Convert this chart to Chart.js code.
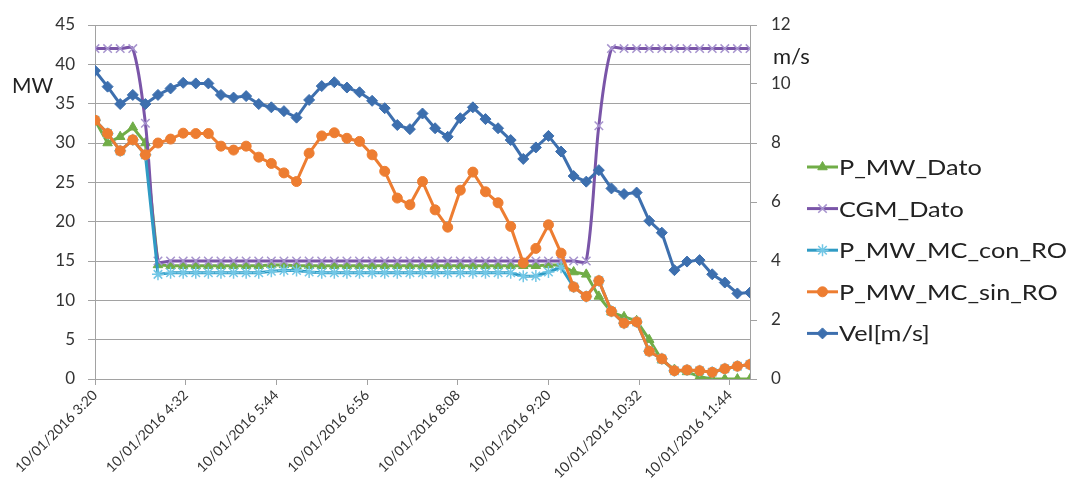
<!DOCTYPE html>
<html>
<head>
<meta charset="utf-8">
<script src="https://cdn.jsdelivr.net/npm/chart.js@4.4.1/dist/chart.umd.min.js"></script>
<style>
  html, body { margin: 0; padding: 0; background: #ffffff; }
  #wrap { width: 1066px; height: 479px; position: relative; }
</style>
</head>
<body>
<div id="wrap"><canvas id="c" width="1066" height="479"></canvas></div>
<script>
// Sample times (10-minute readings on 10/01/2016)
const times = [
  '3:20','3:30','3:40','3:50','4:00','4:10','4:20','4:30','4:40','4:50',
  '5:00','5:10','5:20','5:30','5:40','5:50','6:00','6:10','6:20','6:30',
  '6:40','6:50','7:00','7:10','7:20','7:30','7:40','7:50','8:00','8:10',
  '8:20','8:30','8:40','8:50','9:00','9:10','9:20','9:30','9:40','9:50',
  '10:00','10:10','10:20','10:30','10:40','10:50','11:00','11:10','11:20','11:30',
  '11:40','11:50','12:00'
];

// Axis labels every 72 minutes
const tickLabels = [
  '10/01/2016 3:20','10/01/2016 4:32','10/01/2016 5:44','10/01/2016 6:56',
  '10/01/2016 8:08','10/01/2016 9:20','10/01/2016 10:32','10/01/2016 11:44'
];

// Measured power [MW]
const pMwDato = [
  32.9, 30.0, 30.8, 32.0, 30.0, 14.5, 14.4, 14.4, 14.4, 14.4,
  14.4, 14.4, 14.4, 14.4, 14.5, 14.5, 14.4, 14.4, 14.4, 14.4,
  14.4, 14.4, 14.4, 14.4, 14.4, 14.4, 14.4, 14.4, 14.4, 14.4,
  14.4, 14.4, 14.4, 14.4, 14.4, 14.4, 14.5, 14.5, 13.6, 13.3,
  10.5, 8.5, 7.9, 7.4, 5.0, 2.4, 1.2, 0.9, 0.3, 0.0,
  0.0, 0.0, 0.0
];

// Power limit set by the grid operator [MW]
const cgmDato = [
  42, 42, 42, 42, 32.5, 15, 15, 15, 15, 15,
  15, 15, 15, 15, 15, 15, 15, 15, 15, 15,
  15, 15, 15, 15, 15, 15, 15, 15, 15, 15,
  15, 15, 15, 15, 15, 15, 15, 15, 15, 15,
  32.2, 42, 42, 42, 42, 42, 42, 42, 42, 42,
  42, 42, 42
];

// Model power with curtailment [MW]
const pMwMcConRO = [
  32.9, 31.2, 29.0, 30.4, 28.5, 13.3, 13.5, 13.5, 13.5, 13.5,
  13.5, 13.5, 13.5, 13.5, 13.7, 13.8, 13.8, 13.6, 13.5, 13.5,
  13.5, 13.5, 13.5, 13.5, 13.5, 13.5, 13.5, 13.5, 13.5, 13.5,
  13.5, 13.5, 13.5, 13.5, 13.05, 13.1, 13.6, 14.2, 11.7, 10.5,
  12.5, 8.6, 7.1, 7.26, 3.53, 2.56, 1.05, 1.15, 1.05, 0.85,
  1.3, 1.63, 1.84
];

// Model power without curtailment [MW]
const pMwMcSinRO = [
  32.9, 31.2, 29.0, 30.4, 28.5, 30.0, 30.5, 31.25, 31.2, 31.2,
  29.6, 29.1, 29.6, 28.2, 27.4, 26.2, 25.1, 28.7, 30.9, 31.3,
  30.6, 30.2, 28.5, 26.4, 23.0, 22.15, 25.1, 21.5, 19.3, 24.0,
  26.3, 23.8, 22.4, 19.4, 14.75, 16.6, 19.6, 16.0, 11.7, 10.5,
  12.5, 8.6, 7.1, 7.26, 3.53, 2.56, 1.05, 1.15, 1.05, 0.85,
  1.3, 1.63, 1.84
];

// Wind speed [m/s]
const vel = [
  10.45, 9.91, 9.32, 9.63, 9.32, 9.63, 9.85, 10.04, 10.02, 10.02,
  9.63, 9.54, 9.59, 9.32, 9.21, 9.08, 8.86, 9.46, 9.93, 10.06,
  9.88, 9.72, 9.43, 9.18, 8.61, 8.47, 9.0, 8.5, 8.21, 8.84,
  9.21, 8.81, 8.5, 8.1, 7.46, 7.85, 8.24, 7.71, 6.88, 6.69,
  7.08, 6.46, 6.27, 6.32, 5.36, 4.96, 3.69, 3.98, 4.03, 3.55,
  3.27, 2.9, 2.93
];

// Minutes elapsed since the first reading
const toMin = t => { const [h, m] = t.split(':').map(Number); return h * 60 + m; };
const t0 = toMin(times[0]);
const xs = times.map(t => toMin(t) - t0);
const pts = arr => arr.map((v, i) => ({ x: xs[i], y: v }));

const FONT = 'Lato, "Open Sans", "Liberation Sans", sans-serif';
const TEXT = '#333333';
const GRID = '#a2a2a2';

const series = [
  { label: 'P_MW_Dato', data: pMwDato, axis: 'y', color: '#70AD47', markColor: '#70AD47',
    style: 'triangle', radius: 5.5, order: 5, tension: 0 },
  { label: 'CGM_Dato', data: cgmDato, axis: 'y', color: '#7A55A8', markColor: '#A794CE',
    style: 'crossRot', radius: 6, order: 4, tension: 0.3 },
  { label: 'P_MW_MC_con_RO', data: pMwMcConRO, axis: 'y', color: '#2F9BC4', markColor: '#72C7E6',
    style: 'star', radius: 6, order: 3, tension: 0 },
  { label: 'P_MW_MC_sin_RO', data: pMwMcSinRO, axis: 'y', color: '#ED7D31', markColor: '#ED7D31',
    style: 'circle', radius: 5, order: 2, tension: 0 },
  { label: 'Vel[m/s]', data: vel, axis: 'y1', color: '#3D6FAE', markColor: '#3D6FAE',
    style: 'rectRot', radius: 5.5, order: 1, tension: 0 }
];

const hollow = s => s === 'crossRot' || s === 'star';

const datasets = series.map(s => ({
  label: s.label,
  data: pts(s.data),
  yAxisID: s.axis,
  order: s.order,
  borderColor: s.color,
  backgroundColor: s.markColor,
  borderWidth: 3,
  tension: s.tension,
  pointStyle: s.style,
  pointRadius: s.radius,
  pointBorderColor: s.markColor,
  pointBackgroundColor: s.markColor,
  pointBorderWidth: hollow(s.style) ? 1.5 : 1
}));

// Axis unit captions and the legend block on the right
const extras = {
  id: 'extras',
  afterDraw(chart) {
    const ctx = chart.ctx;
    ctx.save();
    ctx.fillStyle = '#222222';
    ctx.textBaseline = 'middle';
    ctx.textAlign = 'left';
    ctx.font = '21px ' + FONT;
    ctx.fillText('MW', 12, 86);
    ctx.font = '22px ' + FONT;
    ctx.fillText('m/s', 773, 57);

    const lx0 = 807, lx1 = 838, tx = 839;
    const y0 = 167, dy = 41.6;
    series.forEach((s, i) => {
      const y = y0 + i * dy;
      ctx.strokeStyle = s.color;
      ctx.lineWidth = 3;
      ctx.beginPath();
      ctx.moveTo(lx0, y);
      ctx.lineTo(lx1, y);
      ctx.stroke();
      ctx.fillStyle = s.markColor;
      ctx.strokeStyle = s.markColor;
      ctx.lineWidth = hollow(s.style) ? 1.5 : 1;
      Chart.helpers.drawPoint(ctx, { pointStyle: s.style, radius: s.radius, rotation: 0, borderWidth: ctx.lineWidth },
        (lx0 + lx1) / 2, y);
      // legend entries use a slightly widened face
      ctx.save();
      ctx.translate(tx, y + 1);
      ctx.scale(1.15, 1);
      ctx.font = '22px ' + FONT;
      ctx.fillStyle = '#222222';
      ctx.fillText(s.label, 0, 0);
      ctx.restore();
    });
    ctx.restore();
  }
};

new Chart(document.getElementById('c'), {
  type: 'line',
  data: { datasets },
  plugins: [extras],
  options: {
    responsive: false,
    animation: false,
    devicePixelRatio: 1,
    layout: { padding: { top: 25, left: 0, right: 0, bottom: 0 } },
    plugins: { legend: { display: false }, tooltip: { enabled: false } },
    scales: {
      x: {
        type: 'linear',
        position: 'bottom',
        min: 0,
        max: xs[xs.length - 1],
        grid: { drawOnChartArea: false, drawTicks: true, tickLength: 6, color: GRID },
        border: { color: GRID, width: 1 },
        ticks: {
          stepSize: 72,
          includeBounds: false,
          autoSkip: false,
          maxRotation: 45,
          minRotation: 45,
          padding: 2,
          color: TEXT,
          font: { family: FONT, size: 14 },
          callback: v => tickLabels[Math.round(v / 72)] || ''
        },
        afterFit: s => { s.height = 100; }
      },
      y: {
        position: 'left',
        min: 0,
        max: 45,
        grid: { color: GRID, tickLength: 7, drawTicks: true },
        border: { color: GRID, width: 1 },
        ticks: { stepSize: 5, padding: 13, color: TEXT, font: { family: FONT, size: 17 } },
        afterFit: s => { s.width = 95; }
      },
      y1: {
        position: 'right',
        min: 0,
        max: 12,
        grid: { drawOnChartArea: false, tickLength: 7, color: GRID },
        border: { color: GRID, width: 1 },
        ticks: { stepSize: 2, padding: 14, color: TEXT, font: { family: FONT, size: 17 } },
        afterFit: s => { s.width = 316; }
      }
    }
  }
});
</script>
</body>
</html>
